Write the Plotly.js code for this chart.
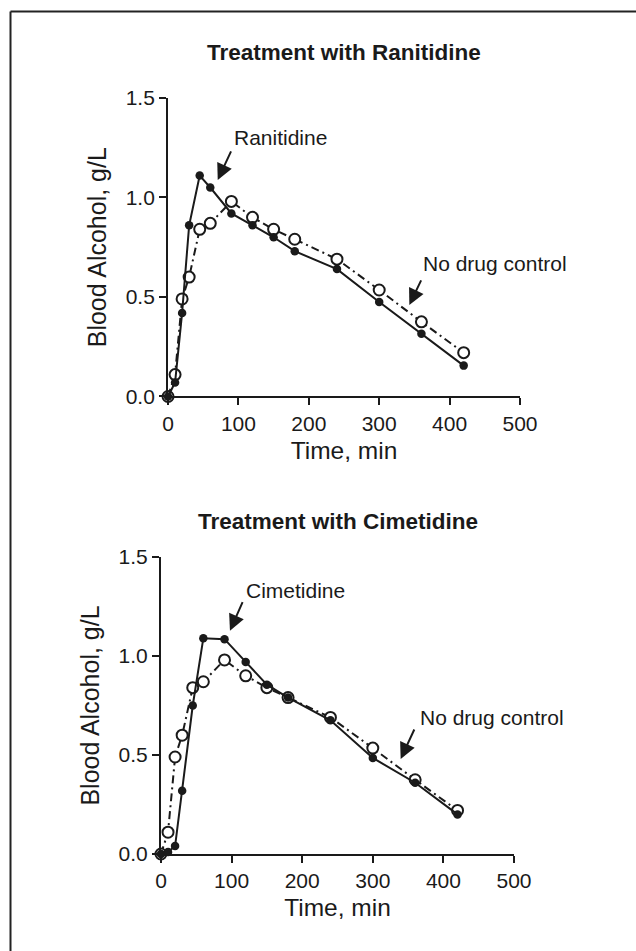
<!DOCTYPE html>
<html>
<head>
<meta charset="utf-8">
<script src="https://cdn.plot.ly/plotly-3.0.1.min.js"></script>
<style>html,body{margin:0;padding:0;background:#fff;}#chart{width:636px;height:951px;}</style>
</head>
<body>
<div id="chart"></div>
<script>
// Data
const timeMin = [0, 10, 20, 30, 45, 60, 90, 120, 150, 180, 240, 300, 360, 420];
const ranitidine = [0, 0.07, 0.42, 0.86, 1.11, 1.05, 0.92, 0.86, 0.80, 0.73, 0.64, 0.475, 0.315, 0.155];
const cimetidine = [0, 0.01, 0.04, 0.32, 0.75, 1.09, 1.085, 0.97, 0.855, 0.79, 0.675, 0.485, 0.36, 0.20];
const noDrugControl = [0, 0.11, 0.49, 0.60, 0.84, 0.87, 0.98, 0.90, 0.84, 0.79, 0.69, 0.535, 0.375, 0.22];
const panelTitles = ["Treatment with Ranitidine", "Treatment with Cimetidine"];
const drugNames = ["Ranitidine", "Cimetidine"];
const controlName = "No drug control";
const xTitle = "Time, min";
const yTitle = "Blood Alcohol, g/L";
const yTicks = [0, 0.5, 1.0, 1.5];

const ink = "#1a1a1a";
const font = "Liberation Sans, Arial, Helvetica, sans-serif";

function controlTrace(xa, ya) {
  return {
    x: timeMin, y: noDrugControl, xaxis: xa, yaxis: ya, name: controlName,
    mode: "lines+markers", cliponaxis: false,
    line: {color: ink, width: 2, dash: "8px,4px,2px,4px"},
    marker: {symbol: "circle", size: 11, color: "#fff", line: {color: ink, width: 2}}
  };
}
function drugTrace(vals, name, xa, ya) {
  return {
    x: timeMin, y: vals, xaxis: xa, yaxis: ya, name: name,
    mode: "lines+markers", cliponaxis: false,
    line: {color: ink, width: 2},
    marker: {symbol: "circle", size: 8.5, color: ink}
  };
}

const data = [
  controlTrace("x", "y"), drugTrace(ranitidine, drugNames[0], "x", "y"),
  controlTrace("x2", "y2"), drugTrace(cimetidine, drugNames[1], "x2", "y2")
];

function xAxis(domain, anchor) {
  return {
    domain: domain, anchor: anchor, range: [0, 500], dtick: 100, tick0: 0,
    showgrid: false, zeroline: false, showline: true, linecolor: ink, linewidth: 2,
    ticks: "outside", ticklen: 7, tickwidth: 2, tickcolor: ink,
    tickfont: {family: font, size: 21, color: ink},
    title: {text: xTitle, font: {family: font, size: 24.5, color: ink}, standoff: 8},
    fixedrange: true
  };
}
function yAxis(domain, anchor) {
  return {
    domain: domain, anchor: anchor, range: [0, 1.5], tickvals: yTicks, tickformat: ".1f",
    showgrid: false, zeroline: false, showline: true, linecolor: ink, linewidth: 2,
    ticks: "outside", ticklen: 7, tickwidth: 2, tickcolor: ink,
    tickfont: {family: font, size: 21, color: ink},
    title: {text: yTitle, font: {family: font, size: 25, color: ink}, standoff: 12},
    fixedrange: true
  };
}

function arrowAnn(xref, yref, x, y, ax, ay) {
  return {xref: xref, yref: yref, x: x, y: y, ax: ax, ay: ay, text: "",
    showarrow: true, arrowhead: 2, arrowsize: 1.6, arrowwidth: 2, arrowcolor: ink};
}
function textAnn(xref, yref, x, y, text) {
  return {xref: xref, yref: yref, x: x, y: y, text: text, showarrow: false,
    xanchor: "left", yanchor: "middle", font: {family: font, size: 21, color: ink}};
}

const layout = {
  width: 636, height: 951,
  margin: {l: 0, r: 0, t: 0, b: 0},
  paper_bgcolor: "#fff", plot_bgcolor: "#fff",
  showlegend: false,
  xaxis: xAxis([0.2642, 0.8176], "y"),
  yaxis: yAxis([0.5831, 0.8970], "x"),
  xaxis2: xAxis([0.2531, 0.8082], "y2"),
  yaxis2: yAxis([0.1020, 0.4143], "x2"),
  annotations: [
    {xref: "paper", yref: "paper", x: 344 / 636, y: 1 - 52.5 / 951, text: "<b>" + panelTitles[0] + "</b>",
     showarrow: false, xanchor: "center", yanchor: "middle", font: {family: font, size: 22.5, color: ink}},
    {xref: "paper", yref: "paper", x: 338 / 636, y: 1 - 521 / 951, text: "<b>" + panelTitles[1] + "</b>",
     showarrow: false, xanchor: "center", yanchor: "middle", font: {family: font, size: 22.5, color: ink}},
    textAnn("x", "y", 91, 1.30, drugNames[0]),
    arrowAnn("x", "y", 70.6, 1.088, 14, -30),
    textAnn("x", "y", 359, 0.666, controlName),
    arrowAnn("x", "y", 342.8, 0.46, 12.5, -26),
    textAnn("x2", "y2", 118, 1.333, drugNames[1]),
    arrowAnn("x2", "y2", 97.7, 1.128, 13.3, -30),
    textAnn("x2", "y2", 364, 0.687, controlName),
    arrowAnn("x2", "y2", 339.5, 0.48, 14.3, -31)
  ],
  shapes: [
    {type: "line", xref: "paper", yref: "paper", x0: 10.5 / 636, x1: 1, y0: 1 - 11.5 / 951, y1: 1 - 11.5 / 951,
     line: {color: "#222", width: 2}},
    {type: "line", xref: "paper", yref: "paper", x0: 10.5 / 636, x1: 10.5 / 636, y0: 0, y1: 1 - 11.5 / 951,
     line: {color: "#222", width: 2}}
  ]
};

Plotly.newPlot("chart", data, layout, {staticPlot: true, displayModeBar: false});
</script>
</body>
</html>
